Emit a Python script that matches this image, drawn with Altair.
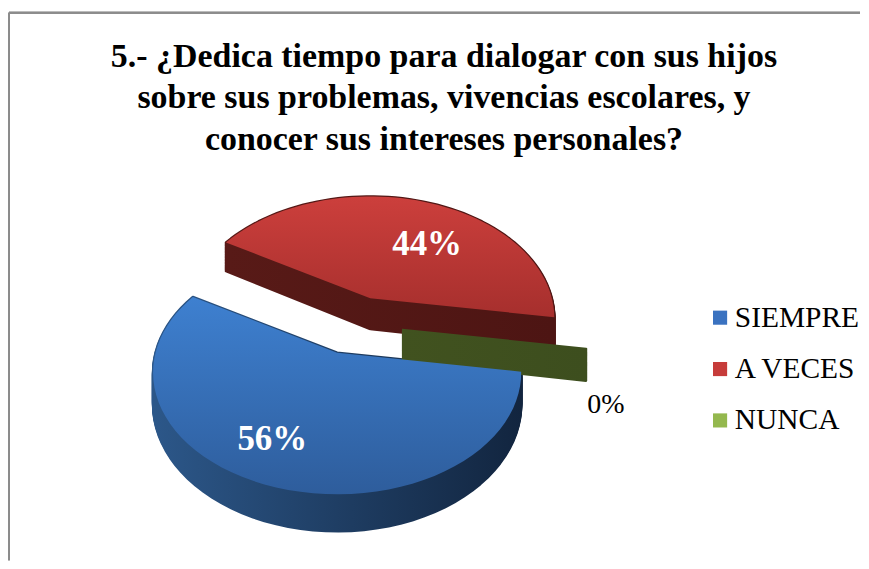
import math
import altair as alt
import pandas as pd

# ---- data ----
categories = ["SIEMPRE", "A VECES", "NUNCA"]
values = [56, 44, 0]
legend_colors = ["#3a72c0", "#c63c3a", "#94b84e"]
top_gradients = [("#3e80d0", "#2e5d9c"), ("#cc3f3c", "#a62f2d"), ("#9bbb59", "#7f9c44")]
side_gradients = [("#2c5789", "#12253f"), ("#581a17", "#4d1513"), ("#41521f", "#3d4e1e")]
title_lines = [
    "5.- ¿Dedica tiempo para dialogar con sus hijos",
    "sobre sus problemas, vivencias escolares, y",
    "conocer sus intereses personales?",
]

df = pd.DataFrame({"categoria": categories, "valor": values,
                   "orden": list(range(len(categories)))})
title_df = pd.DataFrame({"titulo": ["\n".join(title_lines)]})

# ---- layout (page px -> plot px) ----
LEFT = 8
TOP = 8
W = 853
H = 553


def X(px):
    return px - LEFT


def Y(py):
    return py - TOP


PX, PY = X(353.5), Y(325.5)
EX, EY = 49, 29
RX, RY, K = 182, 118.7, 0.164
DEPTH = 31
START = 99 * math.pi / 180
N = 60
L = 31


def grad(c0, c1, horizontal=False):
    return alt.LinearGradient(
        gradient="linear",
        stops=[alt.GradientStop(color=c0, offset=0), alt.GradientStop(color=c1, offset=1)],
        x1=0, y1=0, x2=1 if horizontal else 0, y2=0 if horizontal else 1,
    )


base = (
    alt.Chart(df)
    .transform_joinaggregate(total="sum(valor)")
    .transform_window(cum="sum(valor)", sort=[alt.SortField("orden")], frame=[None, 0])
    .transform_calculate(a0=f"{START} + 2*PI*(datum.cum - datum.valor)/datum.total")
    .transform_calculate(a1=f"{START} + 2*PI*datum.cum/datum.total")
    .transform_calculate(mid="(datum.a0 + datum.a1)/2")
    .transform_calculate(cx=f"{PX} + {EX}*sin(datum.mid)")
    .transform_calculate(cy=f"{PY} - {EY}*cos(datum.mid)")
    .transform_calculate(pct="format(datum.valor/datum.total, '.0%')")
)

poly = (
    base.transform_calculate(idx=f"sequence(0, {N + 3})")
    .transform_flatten(["idx"])
    .transform_calculate(rim=f"(datum.idx > 0 && datum.idx < {N + 2}) ? 1 : 0")
    .transform_calculate(ang=f"datum.a0 + (datum.a1 - datum.a0)*clamp((datum.idx - 1)/{N}, 0, 1)")
    .transform_calculate(den=f"1 + {K}*cos(datum.ang)*datum.rim")
    .transform_calculate(px=f"datum.cx + datum.rim*{RX}*sin(datum.ang)/datum.den")
    .transform_calculate(py=f"datum.cy - datum.rim*{RY}*cos(datum.ang)/datum.den")
)

xenc = alt.X("px:Q", scale=None, axis=None)

# side walls (extrusion) of every slice
side_layers = []
for cat, (c0, c1) in zip(categories, side_gradients):
    g = grad(c0, c1, horizontal=True)
    side_layers.append(
        poly.transform_filter(alt.datum.categoria == cat)
        .transform_calculate(lv=f"sequence(0, {L + 1})")
        .transform_flatten(["lv"])
        .transform_calculate(sy=f"datum.py + datum.lv*{DEPTH / L}/datum.den")
        .mark_line(filled=True, fill=g, stroke=g, strokeWidth=2.5, strokeJoin="round")
        .encode(x=xenc, y=alt.Y("sy:Q", scale=None, axis=None), detail="lv:N", order="idx:Q")
    )

# hidden squares (under the blue top face) that carry the colour legend
legend_layer = alt.Chart(df).mark_square(size=200, opacity=1).encode(
    x=alt.value(X(330)),
    y=alt.value(Y(430)),
    color=alt.Color(
        "categoria:N",
        scale=alt.Scale(domain=categories, range=legend_colors),
        sort=categories,
        legend=alt.Legend(
            title=None, orient="none", legendX=X(706), legendY=Y(303), padding=0,
            symbolType="square", symbolSize=200, symbolStrokeWidth=0,
            labelFont="Liberation Serif", labelFontSize=29.5, labelColor="black",
            labelOffset=0, rowPadding=20.5, labelLimit=300,
        ),
    ),
)

# top faces
top_layers = []
for cat, (c0, c1) in zip(categories, top_gradients):
    top_layers.append(
        poly.transform_filter(alt.datum.categoria == cat)
        .mark_line(filled=True, fill=grad(c0, c1), strokeWidth=0)
        .encode(x=xenc, y=alt.Y("py:Q", scale=None, axis=None), order="idx:Q")
    )

inside = (
    base.transform_filter("datum.valor > 0")
    .transform_calculate(lx="datum.cx + 180*sin(datum.mid) - 4")
    .transform_calculate(ly="datum.cy - 75*cos(datum.mid) + 16")
    .mark_text(font="Liberation Serif", fontSize=35, fontWeight="bold", color="white",
               align="center", baseline="middle")
    .encode(x=alt.X("lx:Q", scale=None, axis=None), y=alt.Y("ly:Q", scale=None, axis=None),
            text="pct:N")
)

outside = (
    base.transform_filter("datum.valor <= 0")
    .transform_calculate(lx="datum.cx + 207*sin(datum.mid)")
    .transform_calculate(ly="datum.cy + 75")
    .mark_text(font="Liberation Serif", fontSize=28, color="black",
               align="center", baseline="middle")
    .encode(x=alt.X("lx:Q", scale=None, axis=None), y=alt.Y("ly:Q", scale=None, axis=None),
            text="pct:N")
)

title = alt.Chart(title_df).mark_text(
    font="Liberation Serif", fontSize=34, fontWeight="bold", color="black",
    align="center", baseline="alphabetic", lineBreak="\n", lineHeight=42,
).encode(x=alt.value(X(444)), y=alt.value(Y(66)), text="titulo:N")

border_v = alt.Chart(df).mark_rule(color="#8c8c8c", strokeWidth=2).encode(
    x=alt.value(0), y=alt.value(Y(12)), y2=alt.value(H))
border_h = alt.Chart(df).mark_rule(color="#8c8c8c", strokeWidth=2).encode(
    x=alt.value(0), x2=alt.value(W), y=alt.value(Y(12)))

chart = (
    alt.layer(border_v, border_h, legend_layer, *side_layers, *top_layers, inside, outside, title)
    .properties(
        width=W, height=H,
        padding={"left": 0, "top": 0, "right": 0, "bottom": 0},
        background="white",
    )
    .configure_view(strokeWidth=0)
)

chart.save("out.html", embed_options={"renderer": "svg", "actions": False})
